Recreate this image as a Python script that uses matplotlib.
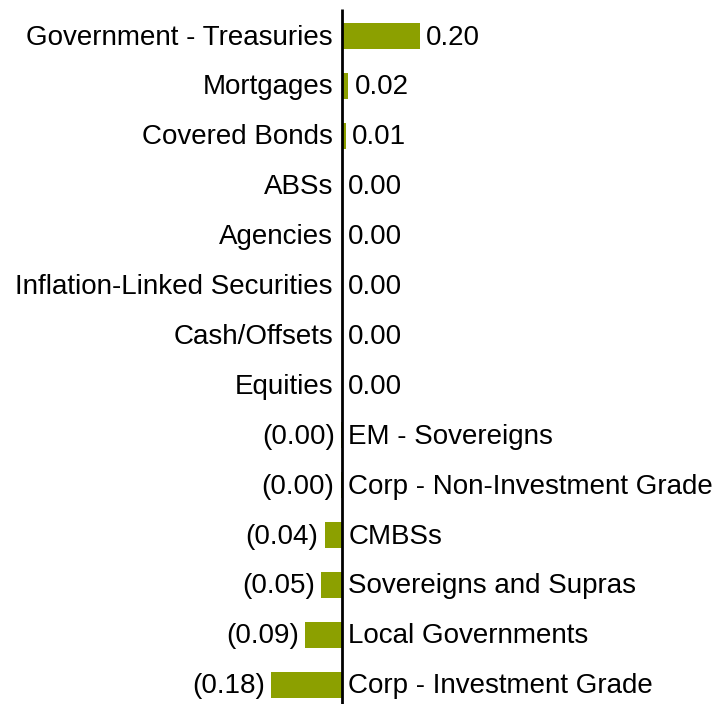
import matplotlib.pyplot as plt

# categories top -> bottom
categories = ['Government - Treasuries', 'Mortgages', 'Covered Bonds', 'ABSs',
              'Agencies', 'Inflation-Linked Securities', 'Cash/Offsets', 'Equities',
              'EM - Sovereigns', 'Corp - Non-Investment Grade', 'CMBSs',
              'Sovereigns and Supras', 'Local Governments', 'Corp - Investment Grade']
values = [0.200, 0.016, 0.009, 0.0, 0.0, 0.0, 0.0, 0.0,
          -0.002, -0.003, -0.044, -0.054, -0.094, -0.182]

bar_color = '#8ca000'
plt.rcParams['font.family'] = ['Liberation Sans', 'DejaVu Sans']
fs = 20

fig = plt.figure(figsize=(7.18, 7.04), dpi=100)
ax = fig.add_axes([0, 0, 1, 1])

# pixel mapping: zero at x=342, 390 px per unit
ppu = 390.0
ax.set_xlim(-342 / ppu, (718 - 342) / ppu)
ax.set_ylim(13.39, -0.72)

y = list(range(len(categories)))
ax.barh(y, values, height=0.52, color=bar_color)
ax.plot([0, 0], [-0.54, 13.39], color='black', lw=2, solid_capstyle='butt')

dy = -1.2
for i, (cat, v) in enumerate(zip(categories, values)):
    if v >= 0:
        lab = f'{v:.2f}'
        ax.annotate(cat, (0, i), xytext=(-6.5, dy), textcoords='offset points',
                    ha='right', va='center', fontsize=fs)
        ax.annotate(lab, (v, i), xytext=(4.5, dy), textcoords='offset points',
                    ha='left', va='center', fontsize=fs)
    else:
        lab = f'({abs(v):.2f})'
        ax.annotate(cat, (0, i), xytext=(4.5, dy), textcoords='offset points',
                    ha='left', va='center', fontsize=fs)
        ax.annotate(lab, (v, i), xytext=(-4.5, dy), textcoords='offset points',
                    ha='right', va='center', fontsize=fs)

ax.axis('off')
fig.savefig('out.png', dpi=100)
